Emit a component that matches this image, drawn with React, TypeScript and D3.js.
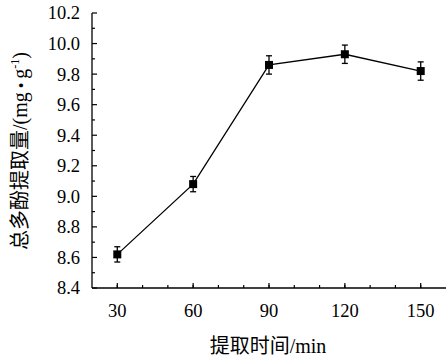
import React from "react";
import * as d3 from "d3";

const times = [30, 60, 90, 120, 150];
const values = [8.62, 9.08, 9.86, 9.93, 9.82];
const errors = [0.05, 0.05, 0.06, 0.06, 0.06];
const yTicks = [8.4, 8.6, 8.8, 9.0, 9.2, 9.4, 9.6, 9.8, 10.0, 10.2];
const xTicks = [30, 60, 90, 120, 150];

const W = 448, H = 361;
const left = 92, right = 446, top = 13, bottom = 288;
const FONT = '"Liberation Serif", "Times New Roman", "Noto Sans CJK SC", serif';

export default function App() {
  const x = d3.scaleLinear().domain([20, 160]).range([left, right]);
  const y = d3.scaleLinear().domain([8.4, 10.2]).range([bottom, top]);
  const line = d3.line<number>().x((_, i) => x(times[i])).y((v) => y(v));
  const xMinor = d3.range(30, 160, 10);
  const yMinor = d3.range(8.5, 10.2, 0.2);
  return (
    <svg width={W} height={H} style={{ position: "absolute", left: 0, top: 0, background: "#fff" }}>
      <rect x={0} y={0} width={W} height={H} fill="#fff" />
      <line x1={left} x2={left} y1={top} y2={bottom} stroke="#000" strokeWidth={1.3} />
      <line x1={left} x2={right} y1={bottom} y2={bottom} stroke="#000" strokeWidth={1.3} />
      {yTicks.map((t) => (
        <g key={"y" + t}>
          <line x1={left} x2={left + 5} y1={y(t)} y2={y(t)} stroke="#000" strokeWidth={1.2} />
          <text x={80} y={y(t)} dy="0.35em" textAnchor="end" fontFamily={FONT} fontSize={18.5}>
            {t.toFixed(1)}
          </text>
        </g>
      ))}
      {yMinor.map((t) => (
        <line key={"ym" + t} x1={left} x2={left + 3} y1={y(t)} y2={y(t)} stroke="#000" strokeWidth={1.2} />
      ))}
      {xMinor.map((t) => (
        <line key={"xm" + t} x1={x(t)} x2={x(t)} y1={bottom} y2={bottom - 3} stroke="#000" strokeWidth={1.2} />
      ))}
      {xTicks.map((t) => (
        <g key={"x" + t}>
          <line x1={x(t)} x2={x(t)} y1={bottom} y2={bottom - 5} stroke="#000" strokeWidth={1.2} />
          <text x={x(t)} y={317} textAnchor="middle" fontFamily={FONT} fontSize={18.5}>
            {t}
          </text>
        </g>
      ))}
      <path d={line(values) || ""} fill="none" stroke="#000" strokeWidth={1.3} />
      {values.map((v, i) => (
        <g key={"e" + i} stroke="#000" strokeWidth={1.3}>
          <line x1={x(times[i])} x2={x(times[i])} y1={y(v - errors[i])} y2={y(v + errors[i])} />
          <line x1={x(times[i]) - 3} x2={x(times[i]) + 3} y1={y(v - errors[i])} y2={y(v - errors[i])} />
          <line x1={x(times[i]) - 3} x2={x(times[i]) + 3} y1={y(v + errors[i])} y2={y(v + errors[i])} />
        </g>
      ))}
      {values.map((v, i) => (
        <rect key={"m" + i} x={x(times[i]) - 4} y={y(v) - 4} width={8} height={8} fill="#000" />
      ))}
      <text x={268} y={353} textAnchor="middle" fontFamily={FONT} fontSize={20}>
        提取时间/min
      </text>
      <text
        transform={`translate(27, 151) rotate(-90)`}
        textAnchor="middle"
        fontFamily={FONT}
        fontSize={20}
      >
        总多酚提取量/(mg<tspan fontSize={16}> • </tspan>g<tspan dy={-8} fontSize={12}>-1</tspan><tspan dy={8}>)</tspan>
      </text>
    </svg>
  );
}
